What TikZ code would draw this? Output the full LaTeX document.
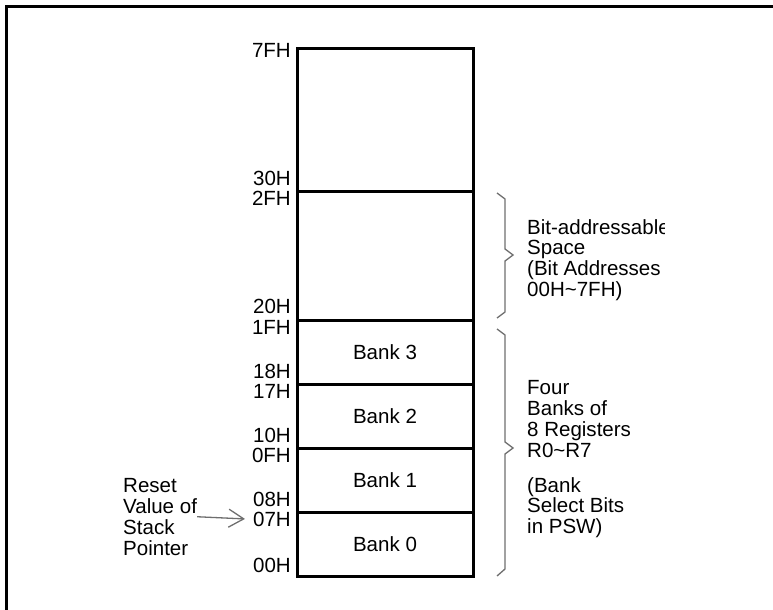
\documentclass[tikz,border=0pt]{standalone}
\usepackage{fontspec}
\setmainfont{Liberation Sans}
\usetikzlibrary{arrows.meta}
\definecolor{braceg}{HTML}{6E6E6E}
\begin{document}
\begin{tikzpicture}[x=1bp,y=-1bp,
  every node/.style={inner sep=0pt, font=\fontsize{20.6}{21}\selectfont},
  addr/.style={anchor=base east},
  mem/.style={line width=3bp, black},
  frame/.style={line width=3bp, black},
  brace/.style={draw=braceg, line width=1.3bp},
  note/.style={align=left, anchor=north west},
  ptr/.style={draw=braceg, line width=1.3bp, -{Straight Barb[length=15bp,width=18bp,line width=1.3bp]}}]
\useasboundingbox (0,0) rectangle (773,610);
% outer frame (cut off at right and bottom)
\draw[frame] (6,620) -- (6,7) -- (790,7);
% memory map
\draw[mem] (297,49) rectangle (473,576);
\foreach \yy in {192,320,384,448,512} \draw[mem] (297,\yy) -- (473,\yy);
% bank labels
\node (b3) at (385,352) {Bank 3};
\node (b2) at (385,416) {Bank 2};
\node (b1) at (385,480) {Bank 1};
\node (b0) at (385,544) {Bank 0};
% address labels
\node[addr] (a7F) at (291,58) {7FH};
\node[addr] (a30) at (291,186) {30H};
\node[addr] (a2F) at (291,206) {2FH};
\node[addr] (a20) at (291,313) {20H};
\node[addr] (a1F) at (291,334) {1FH};
\node[addr] (a18) at (291,378) {18H};
\node[addr] (a17) at (291,398) {17H};
\node[addr] (a10) at (291,442) {10H};
\node[addr] (a0F) at (291,462) {0FH};
\node[addr] (a08) at (291,506) {08H};
\node[addr] (a07) at (291,526) {07H};
\node[addr] (a00) at (291,572) {00H};
% braces
\draw[brace] (497,193) -- (505,199) -- (505,249) -- (513,255) -- (505,261) -- (505,312) -- (497,318);
\draw[brace] (497,329) -- (505,335) -- (505,442) -- (513,448) -- (505,454) -- (505,569) -- (497,576);
% right notes
\begin{scope}
\clip (500,150) rectangle (664,330);
\node[note] (bitnote) at (527,219) {Bit-addressable\\Space\\(Bit Addresses\\00H\textasciitilde7FH)};
\end{scope}
\node[note] (banknote) at (527,380) {Four\\Banks of\\8 Registers\\R0\textasciitilde R7};
\node[note] (selnote) at (527,477) {(Bank\\Select Bits\\in PSW)};
% stack pointer note
\node[note] (spnote) at (123,478) {Reset\\Value of\\Stack\\Pointer};
\draw[ptr] (spnote.east) -- ([xshift=-8bp]a07.west);
\end{tikzpicture}
\end{document}
